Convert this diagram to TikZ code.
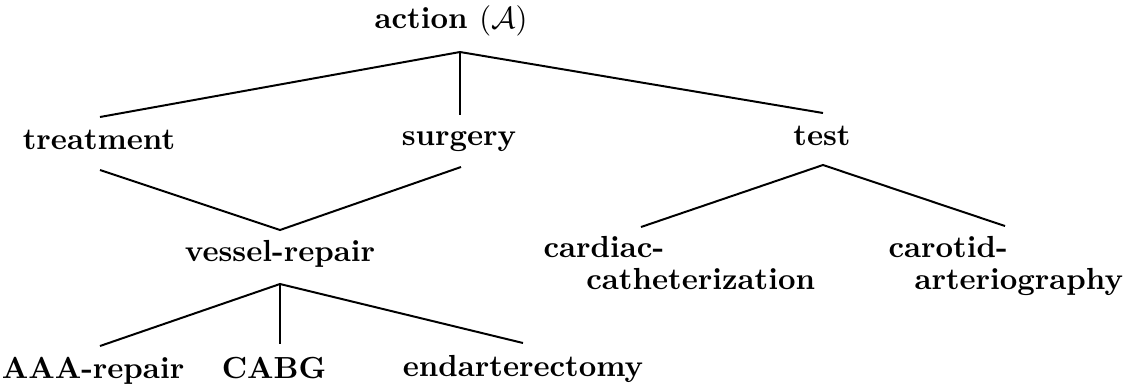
\documentclass[tikz,border=0pt]{standalone}
\begin{document}
\begin{tikzpicture}[x=0.3279pt,y=-0.3279pt,
  term/.style={font=\bfseries, inner sep=0pt, anchor=base},
  termleft/.style={term, anchor=base west},
  branch/.style={line width=0.65pt, line join=miter}]
\useasboundingbox (0,0) rectangle (1134,385);

% concept labels
\node[termleft] (action) at (374,28) {action $(\mathcal{A})$};
\node[term] (treatment) at (99,149) {treatment};
\node[term] (surgery) at (459,145) {surgery};
\node[term] (test) at (822,145) {test};
\node[term] (vessel) at (280,261) {vessel-repair};
\node[termleft] (cardiac) at (543,257)
  {\begin{tabular}[t]{@{}l@{}}cardiac-\\[-1.5pt]\hspace{14pt}catheterization\end{tabular}};
\node[termleft] (carotid) at (888,257)
  {\begin{tabular}[t]{@{}l@{}}carotid-\\[-1.5pt]\hspace{8.5pt}arteriography\end{tabular}};
\node[term] (aaa) at (93,378) {AAA-repair};
\node[term] (cabg) at (274,378) {CABG};
\node[term] (endart) at (523,376) {endarterectomy};

% attachment points of the branches
\coordinate (action-foot) at (460,52);
\coordinate (treatment-head) at (100,117);
\coordinate (surgery-head) at (460,115);
\coordinate (test-head) at (823,113);
\coordinate (treatment-foot) at (100,170);
\coordinate (surgery-foot) at (461,167);
\coordinate (vessel-head) at (280,230);
\coordinate (test-foot) at (823,165);
\coordinate (cardiac-head) at (641,227);
\coordinate (carotid-head) at (1005,226);
\coordinate (vessel-foot) at (280,284);
\coordinate (aaa-head) at (100,346);
\coordinate (cabg-head) at (280,344);
\coordinate (endart-head) at (523,343);

% branches
\draw[branch] (treatment-head) -- (action-foot) -- (test-head);
\draw[branch] (action-foot) -- (surgery-head);
\draw[branch] (treatment-foot) -- (vessel-head) -- (surgery-foot);
\draw[branch] (cardiac-head) -- (test-foot) -- (carotid-head);
\draw[branch] (aaa-head) -- (vessel-foot) -- (endart-head);
\draw[branch] (vessel-foot) -- (cabg-head);
\end{tikzpicture}
\end{document}
